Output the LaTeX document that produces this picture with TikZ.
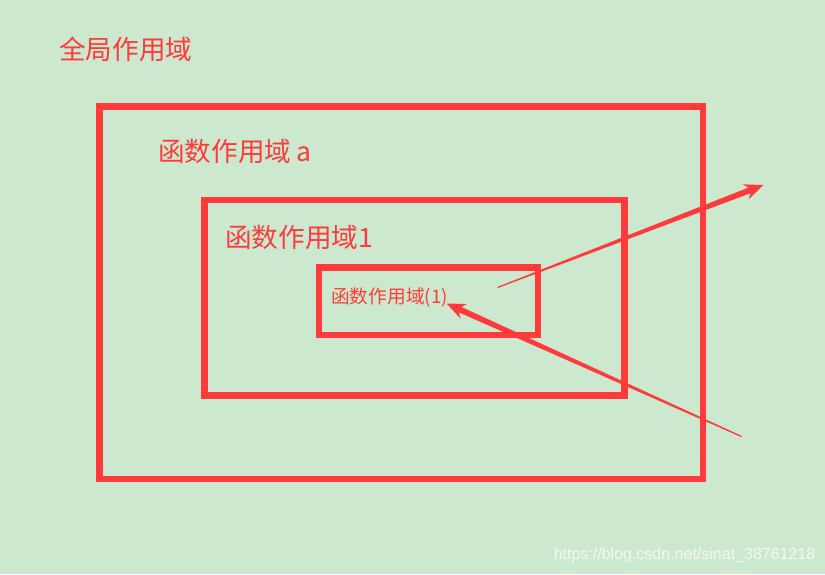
\documentclass[tikz,border=0pt]{standalone}
\usepackage{fontspec}
\setmainfont{Noto Sans CJK SC}
\newfontfamily\urlfont{Liberation Sans}
\usetikzlibrary{calc}
\definecolor{bgGreen}{RGB}{204,232,207}
\definecolor{scopeRed}{RGB}{255,58,58}

\newcommand{\wedgearrow}[2]{%
  \coordinate (#2-neck) at ($(#2)!15pt!(#1)$);
  \coordinate (#2-barb) at ($(#2)!19pt!(#1)$);
  \fill[scopeRed] ($(#1)!0.6pt!90:(#2)$) -- ($(#2-neck)!3pt!90:(#2)$)
    -- ($(#2-barb)!8pt!90:(#2)$) -- (#2) -- ($(#2-barb)!8pt!-90:(#2)$)
    -- ($(#2-neck)!3pt!-90:(#2)$) -- ($(#1)!0.6pt!-90:(#2)$) -- cycle;
}

\begin{document}
\begin{tikzpicture}[x=1pt, y=-1pt,
    box/.style={draw=scopeRed, line width=6.5pt},
    bigtext/.style={text=scopeRed, inner sep=0pt, anchor=west, font=\fontsize{26.6}{30}\selectfont},
    smalltext/.style={text=scopeRed, inner sep=0pt, anchor=west, font=\fontsize{18.7}{22}\selectfont}]
    \fill[bgGreen] (0,0) rectangle (825,574);
    \useasboundingbox (0,0) rectangle (825,574);
    \draw[box] (99.5,106.5) rectangle (703,479);
    \draw[box] (204.5,200) rectangle (624.5,395.5);
    \draw[box] (319,267.5) rectangle (538,335);
    \node[bigtext] (global) at (59,49) {全局作用域};
    \node[bigtext] (funca) at (158,151) {函数作用域\hspace{5pt}a};
    \node[bigtext] (func1) at (225,237) {函数作用域1};
    \node[smalltext] (func1inner) at (331,297) {函数作用域(1)};
    \coordinate (outtail) at (497.5,287.5);
    \coordinate (outtip) at (763.5,185);
    \coordinate (intail) at (741.5,436.5);
    \coordinate (intip) at (446.5,303.5);
    \wedgearrow{outtail}{outtip}
    \wedgearrow{intail}{intip}
    \node[text=white, text opacity=0.75, inner sep=0pt, anchor=east, font=\urlfont\fontsize{16}{19}\selectfont] (url) at (815.5,555) {https://blog.csdn.net/sinat\_38761218};
\end{tikzpicture}
\end{document}
